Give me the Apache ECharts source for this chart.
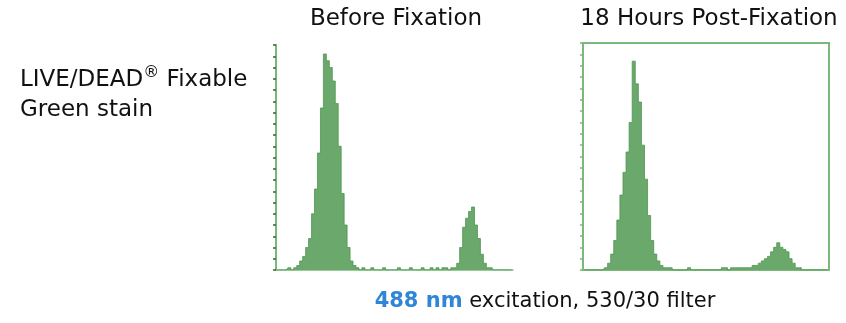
<!DOCTYPE html>
<html>
<head>
<meta charset="utf-8">
<script src="https://cdn.jsdelivr.net/npm/echarts@6/dist/echarts.min.js"></script>
<style>
  html, body { margin: 0; padding: 0; background: #fff; }
  #chart { width: 846px; height: 323px; }
</style>
</head>
<body>
<div id="chart"></div>
<script>
// 80 channel bins per histogram (log fluorescence, left to right)
const bins = Array.from({ length: 80 }, (_, i) => String(i));

// counts, Before Fixation
const beforeCounts = [
  0, 0, 0, 0, 1, 0, 1, 2, 4, 6,
  10, 14, 25, 36, 52, 72, 96, 93, 90, 84,
  74, 55, 34, 20, 10, 4, 2, 1, 0, 1,
  0, 0, 1, 0, 0, 0, 1, 0, 0, 0,
  0, 1, 0, 0, 0, 1, 0, 0, 0, 1,
  0, 0, 1, 0, 1, 0, 1, 1, 0, 1,
  1, 3, 10, 19, 23, 26, 28, 20, 14, 7,
  3, 1, 1, 0, 0, 0, 0, 0, 0, 0
];

// counts, 18 Hours Post-Fixation
const afterCounts = [
  0, 0, 0, 0, 0, 0, 0, 1, 3, 7,
  13, 22, 33, 43, 52, 65, 92, 82, 74, 55,
  40, 24, 13, 7, 4, 2, 1, 1, 1, 0,
  0, 0, 0, 0, 1, 0, 0, 0, 0, 0,
  0, 0, 0, 0, 0, 1, 1, 0, 1, 1,
  1, 1, 1, 1, 1, 2, 2, 3, 4, 5,
  6, 8, 10, 12, 10, 9, 8, 5, 3, 1,
  1, 0, 0, 0, 0, 0, 0, 0, 0, 0
];

const green = '#6aa86b';
const axisGreen = '#7bb87b';
const font = 'DejaVu Sans';

const chart = echarts.init(document.getElementById('chart'), null, { renderer: 'canvas' });

const histSeries = (idx, data) => ({
  type: 'line', xAxisIndex: idx, yAxisIndex: idx, data: data,
  step: 'middle', symbol: 'none',
  lineStyle: { color: '#4f9550', width: 0.8 },
  areaStyle: { color: green, opacity: 1 }
});

const option = {
  animation: false,
  textStyle: { fontFamily: font },
  title: [
    { text: 'Before Fixation', left: 391, top: 3, textAlign: 'center',
      textStyle: { fontSize: 23, fontWeight: 'normal', color: '#111', fontFamily: font } },
    { text: '18 Hours Post-Fixation', left: 704, top: 3, textAlign: 'center',
      textStyle: { fontSize: 23, fontWeight: 'normal', color: '#111', fontFamily: font } },
    { text: 'LIVE/DEAD{sup|®} Fixable\nGreen stain', left: 15, top: 60,
      textStyle: { fontSize: 23, fontWeight: 'normal', color: '#111', lineHeight: 30, fontFamily: font,
        rich: { sup: { fontSize: 16, color: '#111', fontFamily: font, verticalAlign: 'top', lineHeight: 20 } } } },
    { text: '{b|488 nm} excitation, 530/30 filter', left: 540, top: 286, textAlign: 'center',
      textStyle: {
        fontSize: 21, fontWeight: 'normal', color: '#111', fontFamily: font,
        rich: { b: { fontSize: 21, fontWeight: 'bold', color: '#2f86d6', fontFamily: font } }
      } }
  ],
  grid: [
    { left: 276, top: 45, width: 237, height: 225, show: false },
    { left: 583, top: 43, width: 246, height: 227, show: true,
      borderColor: axisGreen, borderWidth: 2, backgroundColor: 'transparent' }
  ],
  xAxis: [0, 1].map(g => ({
    type: 'category', gridIndex: g, data: bins, boundaryGap: true,
    axisLine: { show: true, lineStyle: { color: axisGreen, width: 1.5 } },
    axisTick: { show: false }, axisLabel: { show: false }, splitLine: { show: false }
  })),
  yAxis: [0, 1].map(g => ({
    type: 'value', gridIndex: g, min: 0, max: 100, interval: 5,
    axisLine: { show: true, lineStyle: { color: axisGreen, width: 2 } },
    axisTick: { show: true, inside: false, length: 3, lineStyle: { color: g === 0 ? '#2e6b2e' : '#7bb87b', width: 1.5 } },
    axisLabel: { show: false }, splitLine: { show: false }
  })),
  series: [histSeries(0, beforeCounts), histSeries(1, afterCounts)]
};

chart.setOption(option);
</script>
</body>
</html>
